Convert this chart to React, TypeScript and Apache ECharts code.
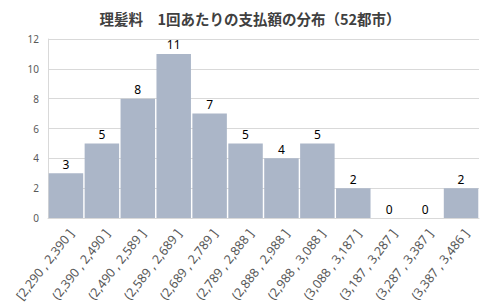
import React, { useEffect, useRef } from "react";
import * as echarts from "echarts";

const categories = [
  "[2,290 , 2,390 ]",
  "(2,390 , 2,490 ]",
  "(2,490 , 2,589 ]",
  "(2,589 , 2,689 ]",
  "(2,689 , 2,789 ]",
  "(2,789 , 2,888 ]",
  "(2,888 , 2,988 ]",
  "(2,988 , 3,088 ]",
  "(3,088 , 3,187 ]",
  "(3,187 , 3,287 ]",
  "(3,287 , 3,387 ]",
  "(3,387 , 3,486 ]",
];
const counts = [3, 5, 8, 11, 7, 5, 4, 5, 2, 0, 0, 2];
const title = "理髪料　1回あたりの支払額の分布（52都市）";

export default function App() {
  const ref = useRef<HTMLDivElement>(null);
  useEffect(() => {
    const chart = echarts.init(ref.current!, null, { renderer: "svg" });
    const font = "'Noto Sans CJK JP', 'Noto Sans', sans-serif";
    chart.setOption({
      animation: false,
      title: {
        text: title,
        left: "center",
        top: 6,
        textStyle: { fontSize: 14.5, fontWeight: "bold", color: "#404040", fontFamily: font },
      },
      grid: { left: 48, right: 21, top: 39, bottom: 90, containLabel: false },
      xAxis: {
        type: "category",
        data: categories,
        axisLine: { lineStyle: { color: "#d9d9d9" } },
        axisTick: { show: false },
        axisLabel: {
          interval: 0,
          rotate: 52,
          fontSize: 12.5,
          color: "#595959",
          fontFamily: "'Noto Sans', sans-serif",
          margin: 9,
          verticalAlign: "top",
        },
      },
      yAxis: {
        type: "value",
        min: 0,
        max: 12,
        interval: 2,
        axisLine: { show: true, lineStyle: { color: "#d9d9d9" } },
        axisTick: { show: false },
        splitLine: { lineStyle: { color: "#d9d9d9" } },
        axisLabel: { fontSize: 10, color: "#595959", margin: 9, fontFamily: "'Noto Sans', sans-serif" },
      },
      series: [
        {
          type: "bar",
          data: counts,
          barCategoryGap: "4%",
          itemStyle: { color: "#abb6c8" },
          label: {
            show: true,
            position: "top",
            distance: 3,
            fontSize: 12,
            color: "#000",
            fontFamily: "'Noto Sans', sans-serif",
          },
        },
      ],
    });
    return () => chart.dispose();
  }, []);
  return (
    <div
      ref={ref}
      style={{ position: "absolute", left: 0, top: 0, width: 500, height: 308 }}
    />
  );
}
